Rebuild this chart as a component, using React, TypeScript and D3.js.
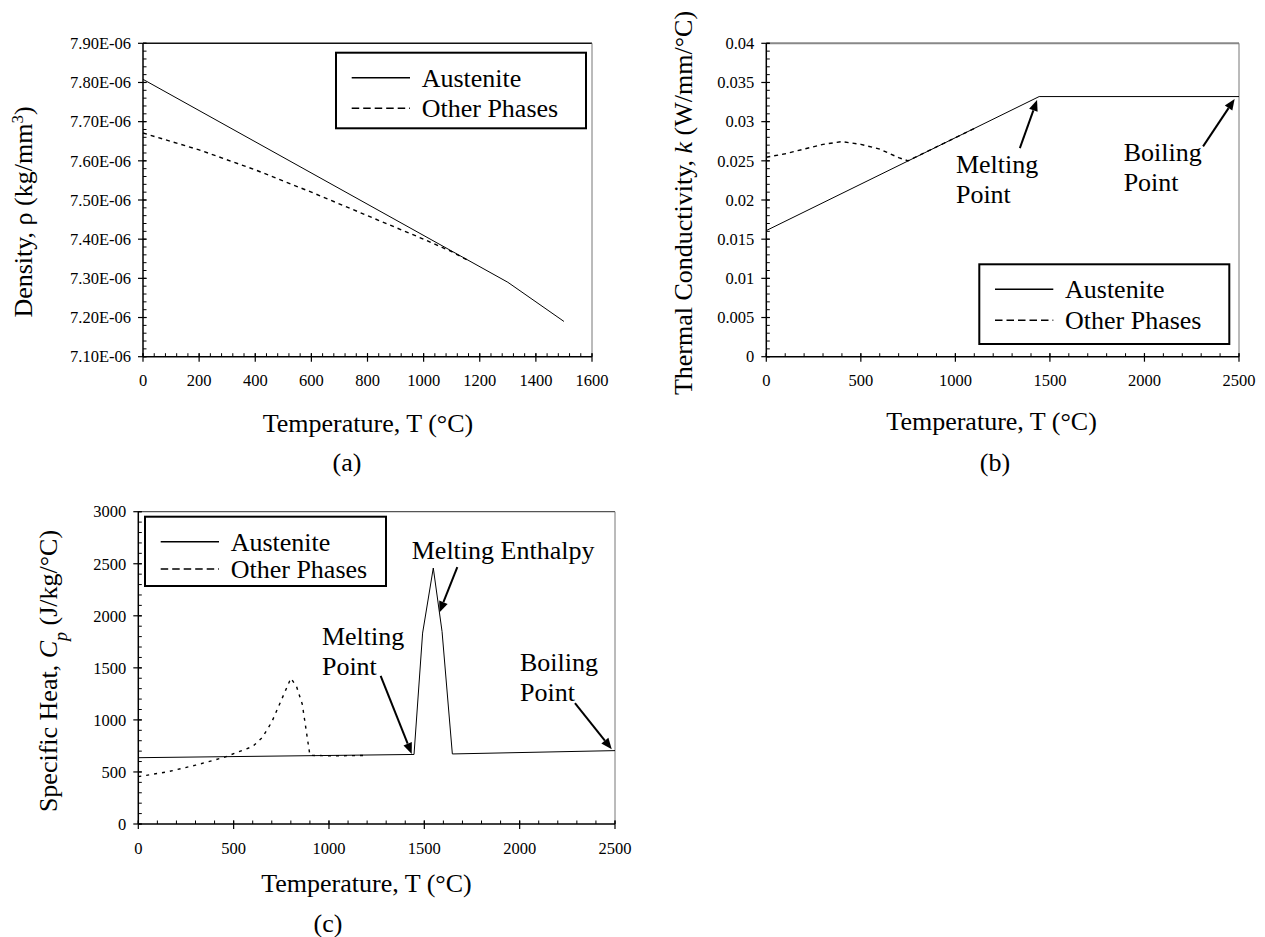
import React from 'react';
import * as d3 from 'd3';

const FONT = '"Liberation Serif", "Times New Roman", Times, serif';

// ---------- Panel (a): Density ----------
const densAustTemp = [0, 1300, 1500];
const densAust = [7.808e-6, 7.29e-6, 7.19e-6];
const densOtherTemp = [0, 200, 400, 600, 800, 1000, 1100, 1160];
const densOther = [7.671e-6, 7.628e-6, 7.577e-6, 7.52e-6, 7.46e-6, 7.4e-6, 7.368e-6, 7.345e-6];
const densXTicks = [0, 200, 400, 600, 800, 1000, 1200, 1400, 1600];
const densYTicks = [7.1e-6, 7.2e-6, 7.3e-6, 7.4e-6, 7.5e-6, 7.6e-6, 7.7e-6, 7.8e-6, 7.9e-6];

// ---------- Panel (b): Thermal conductivity ----------
const condAustTemp = [0, 1443, 2500];
const condAust = [0.0161, 0.0332, 0.0332];
const condOtherTemp = [0, 100, 200, 300, 400, 500, 600, 700, 750, 900, 1100];
const condOther = [0.02546, 0.0259, 0.0265, 0.0271, 0.02745, 0.0271, 0.0265, 0.0254, 0.025, 0.02677, 0.02914];
const condXTicks = [0, 500, 1000, 1500, 2000, 2500];
const condYTicks = [0, 0.005, 0.01, 0.015, 0.02, 0.025, 0.03, 0.035, 0.04];

// ---------- Panel (c): Specific heat ----------
const cpAustTemp = [0, 1446, 1491, 1547, 1593, 1647, 2500];
const cpAust = [637, 668, 1834, 2459, 1849, 673, 705];
const cpOtherTemp = [0, 150, 300, 450, 600, 650, 700, 750, 800, 830, 860, 900, 1000, 1200];
const cpOther = [455, 500, 565, 640, 745, 830, 980, 1190, 1400, 1320, 1150, 660, 655, 658];
const cpXTicks = [0, 500, 1000, 1500, 2000, 2500];
const cpYTicks = [0, 500, 1000, 1500, 2000, 2500, 3000];

const legendLabels = ['Austenite', 'Other Phases'];

type Geo = { x0: number; x1: number; y0: number; y1: number };
type Ann = { lines: string[]; at: [number, number]; from: [number, number]; to: [number, number] };

function Arrow({ x1, y1, x2, y2 }: { x1: number; y1: number; x2: number; y2: number }) {
  const ang = Math.atan2(y2 - y1, x2 - x1);
  const L = 11, W = 4.5;
  const bx = x2 - L * Math.cos(ang), by = y2 - L * Math.sin(ang);
  const px = -Math.sin(ang), py = Math.cos(ang);
  const pts = `${x2},${y2} ${bx + W * px},${by + W * py} ${bx - W * px},${by - W * py}`;
  return (
    <g>
      <line x1={x1} y1={y1} x2={bx} y2={by} stroke="#000" strokeWidth={2} />
      <polygon points={pts} fill="#000" />
    </g>
  );
}

function Panel(props: {
  g: Geo;
  xDomain: [number, number];
  yDomain: [number, number];
  xTicks: number[];
  yTicks: number[];
  xMinor: number;
  yMinor: number;
  yFmt: (d: number) => string;
  aust: [number[], number[]];
  other: [number[], number[]];
  otherDash: string;
  legend: { x: number; y: number; w: number; h: number; gap: number };
  anns: Ann[];
  yTitle: React.ReactNode;
  yTitlePos: [number, number];
  xTitlePos: [number, number];
  caption: string;
  captionPos: [number, number];
  topStroke: string;
  topWidth: number;
}) {
  const { g } = props;
  const x = d3.scaleLinear().domain(props.xDomain).range([g.x0, g.x1]);
  const y = d3.scaleLinear().domain(props.yDomain).range([g.y1, g.y0]);
  const line = d3
    .line<[number, number]>()
    .x((d) => x(d[0]))
    .y((d) => y(d[1]));
  const austPts = props.aust[0].map((t, i) => [t, props.aust[1][i]] as [number, number]);
  const otherPts = props.other[0].map((t, i) => [t, props.other[1][i]] as [number, number]);
  const xMinors = d3.range(props.xDomain[0], props.xDomain[1] + 1e-9, props.xMinor);
  const yStepCount = Math.round((props.yDomain[1] - props.yDomain[0]) / props.yMinor);
  const yMinors = d3.range(0, yStepCount + 1).map((i) => props.yDomain[0] + i * props.yMinor);
  const L = props.legend;
  return (
    <g fontFamily={FONT} fill="#000">
      <line x1={g.x0} y1={g.y0} x2={g.x1} y2={g.y0} stroke={props.topStroke} strokeWidth={props.topWidth} />
      <line x1={g.x1} y1={g.y0} x2={g.x1} y2={g.y1} stroke="#777" strokeWidth={1} />
      {xMinors.map((t, i) => (
        <line key={'xm' + i} x1={x(t)} x2={x(t)} y1={g.y1} y2={g.y1 - 3.5} stroke="#000" strokeWidth={1} />
      ))}
      {yMinors.map((v, i) => (
        <line key={'ym' + i} x1={g.x0} x2={g.x0 + 3.5} y1={y(v)} y2={y(v)} stroke="#000" strokeWidth={1} />
      ))}
      {props.xTicks.map((t, i) => (
        <g key={'xt' + i}>
          <line x1={x(t)} x2={x(t)} y1={g.y1 - 3.5} y2={g.y1 + 5} stroke="#000" strokeWidth={1.2} />
          <text x={x(t)} y={g.y1 + 29.5} fontSize={16.5} textAnchor="middle">
            {String(t)}
          </text>
        </g>
      ))}
      {props.yTicks.map((v, i) => (
        <g key={'yt' + i}>
          <line x1={g.x0 - 5} x2={g.x0 + 3.5} y1={y(v)} y2={y(v)} stroke="#000" strokeWidth={1.2} />
          <text x={g.x0 - 12} y={y(v)} dy="0.35em" fontSize={16.5} textAnchor="end">
            {props.yFmt(v)}
          </text>
        </g>
      ))}
      <line x1={g.x0} y1={g.y0} x2={g.x0} y2={g.y1} stroke="#000" strokeWidth={1.5} />
      <line x1={g.x0} y1={g.y1} x2={g.x1} y2={g.y1} stroke="#000" strokeWidth={1.5} />
      <path d={line(otherPts) || ''} fill="none" stroke="#000" strokeWidth={1.4} strokeDasharray={props.otherDash} />
      <path d={line(austPts) || ''} fill="none" stroke="#000" strokeWidth={1} />
      <rect x={L.x} y={L.y} width={L.w} height={L.h} fill="#fff" stroke="#000" strokeWidth={2} />
      <line x1={L.x + 15.7} x2={L.x + 74} y1={L.y + 25} y2={L.y + 25} stroke="#000" strokeWidth={1.5} />
      <text x={L.x + 85.7} y={L.y + 25 + 9} fontSize={26}>
        {legendLabels[0]}
      </text>
      <line
        x1={L.x + 15.7}
        x2={L.x + 74}
        y1={L.y + 25 + L.gap}
        y2={L.y + 25 + L.gap}
        stroke="#000"
        strokeWidth={1.5}
        strokeDasharray="7.5,4"
      />
      <text x={L.x + 85.7} y={L.y + 25 + L.gap + 9} fontSize={26}>
        {legendLabels[1]}
      </text>
      {props.anns.map((a, i) => (
        <g key={'an' + i}>
          {a.lines.map((s, j) => (
            <text key={j} x={x(a.at[0])} y={y(a.at[1]) + j * 30} fontSize={26}>
              {s}
            </text>
          ))}
          <Arrow x1={x(a.from[0])} y1={y(a.from[1])} x2={x(a.to[0])} y2={y(a.to[1])} />
        </g>
      ))}
      <text
        transform={`translate(${props.yTitlePos[0]},${props.yTitlePos[1]}) rotate(-90)`}
        fontSize={26}
        textAnchor="middle"
      >
        {props.yTitle}
      </text>
      <text x={props.xTitlePos[0]} y={props.xTitlePos[1]} fontSize={26} textAnchor="middle">
        Temperature, T (°C)
      </text>
      <text x={props.captionPos[0]} y={props.captionPos[1]} fontSize={26} textAnchor="middle">
        {props.caption}
      </text>
    </g>
  );
}

export default function App() {
  return (
    <svg
      width={1265}
      height={937}
      viewBox="0 0 1265 937"
      style={{ position: 'absolute', left: 0, top: 0, background: '#fff' }}
    >
      <rect x={0} y={0} width={1265} height={937} fill="#fff" />
      <Panel
        g={{ x0: 143, x1: 592, y0: 43.3, y1: 356.7 }}
        xDomain={[0, 1600]}
        yDomain={[7.1e-6, 7.9e-6]}
        xTicks={densXTicks}
        yTicks={densYTicks}
        xMinor={40}
        yMinor={0.02e-6}
        yFmt={(d) => (d * 1e6).toFixed(2) + 'E-06'}
        aust={[densAustTemp, densAust]}
        other={[densOtherTemp, densOther]}
        otherDash="4,4"
        legend={{ x: 336, y: 52.7, w: 250, h: 75.6, gap: 30.6 }}
        anns={[]}
        yTitle={
          <>
            Density, ρ (kg/mm
            <tspan baselineShift="super" fontSize={17}>
              3
            </tspan>
            )
          </>
        }
        yTitlePos={[32, 212]}
        xTitlePos={[368, 431.7]}
        caption="(a)"
        captionPos={[347, 471]}
        topStroke="#111"
        topWidth={1.5}
      />
      <Panel
        g={{ x0: 766.3, x1: 1239, y0: 43.3, y1: 356.7 }}
        xDomain={[0, 2500]}
        yDomain={[0, 0.04]}
        xTicks={condXTicks}
        yTicks={condYTicks}
        xMinor={100}
        yMinor={0.001}
        yFmt={(d) => String(+d.toFixed(3))}
        aust={[condAustTemp, condAust]}
        other={[condOtherTemp, condOther]}
        otherDash="4,4"
        legend={{ x: 979.3, y: 264.3, w: 250, h: 79.7, gap: 31 }}
        anns={[
          { lines: ['Melting', 'Point'], at: [1003, 0.02349], from: [1341, 0.02661], to: [1432, 0.03277] },
          { lines: ['Boiling', 'Point'], at: [1890, 0.025], from: [2310, 0.02684], to: [2477, 0.0329] },
        ]}
        yTitle={
          <>
            Thermal Conductivity, <tspan fontStyle="italic">k</tspan> (W/mm/°C)
          </>
        }
        yTitlePos={[692, 203]}
        xTitlePos={[991.6, 430]}
        caption="(b)"
        captionPos={[995, 471]}
        topStroke="#888"
        topWidth={2}
      />
      <Panel
        g={{ x0: 138.3, x1: 615, y0: 511.7, y1: 824 }}
        xDomain={[0, 2500]}
        yDomain={[0, 3000]}
        xTicks={cpXTicks}
        yTicks={cpYTicks}
        xMinor={100}
        yMinor={100}
        yFmt={(d) => String(d)}
        aust={[cpAustTemp, cpAust]}
        other={[cpOtherTemp, cpOther]}
        otherDash="3,5"
        legend={{ x: 145, y: 516.7, w: 241, h: 69.3, gap: 27.3 }}
        anns={[
          { lines: ['Melting', 'Point'], at: [963, 1721], from: [1271, 1423], to: [1434, 673] },
          { lines: ['Melting Enthalpy'], at: [1434, 2545], from: [1673, 2468], to: [1579, 2032] },
          { lines: ['Boiling', 'Point'], at: [2002, 1474], from: [2290, 1160], to: [2483, 718] },
        ]}
        yTitle={
          <>
            Specific Heat, <tspan fontStyle="italic">C</tspan>
            <tspan fontStyle="italic" baselineShift="sub" fontSize={18}>
              p
            </tspan>{' '}
            (J/kg/°C)
          </>
        }
        yTitlePos={[57, 671]}
        xTitlePos={[366.5, 891.7]}
        caption="(c)"
        captionPos={[328, 932]}
        topStroke="#555"
        topWidth={1.2}
      />
    </svg>
  );
}
